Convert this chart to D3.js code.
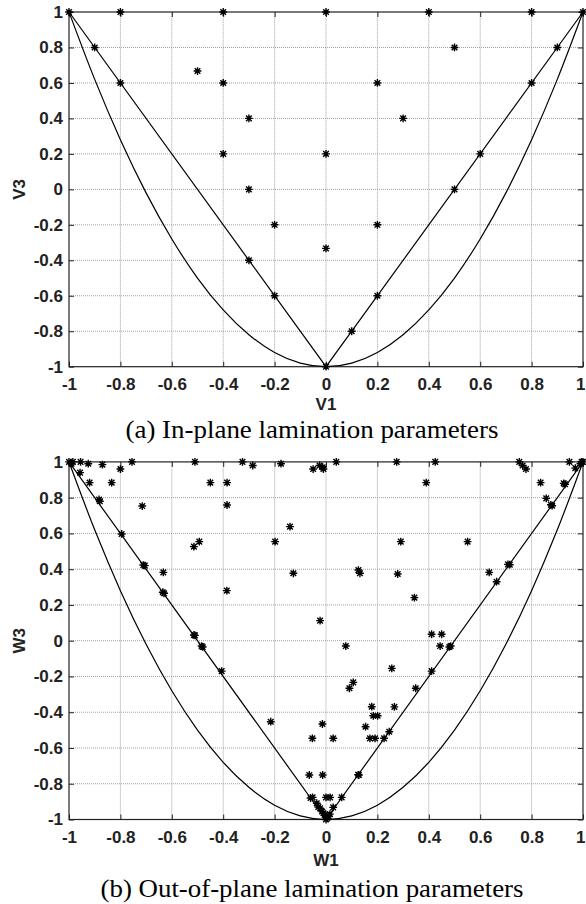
<!DOCTYPE html>
<html>
<head>
<meta charset="utf-8">
<script src="https://cdn.jsdelivr.net/npm/d3@7"></script>
<style>
body { margin: 0; background: #fff; }
svg { display: block; }
.tick text { font-family: "Liberation Sans", Arial, sans-serif; font-weight: bold; font-size: 17px; fill: #222; }
.axis-label { font-family: "Liberation Sans", Arial, sans-serif; font-weight: bold; font-size: 17px; fill: #222; }
.caption { font-family: "Liberation Serif", "Times New Roman", serif; font-size: 25px; fill: #000; }
</style>
</head>
<body>
<svg id="chart" width="586" height="904"></svg>
<script>
// tick values and labels (same for both panels)
var ticks = [-1, -0.8, -0.6, -0.4, -0.2, 0, 0.2, 0.4, 0.6, 0.8, 1];
var tickLabels = ['-1', '-0.8', '-0.6', '-0.4', '-0.2', '0', '0.2', '0.4', '0.6', '0.8', '1'];

// feasible region boundary
var lineX = [-1, 0, 1];
var lineY = [1, -1, 1];
var curveX = [-1, -0.9, -0.8, -0.7, -0.6, -0.5, -0.4, -0.3, -0.2, -0.1, 0, 0.1, 0.2, 0.3, 0.4, 0.5, 0.6, 0.7, 0.8, 0.9, 1];
var curveY = [1, 0.62, 0.28, -0.02, -0.28, -0.5, -0.68, -0.82, -0.92, -0.98, -1, -0.98, -0.92, -0.82, -0.68, -0.5, -0.28, -0.02, 0.28, 0.62, 1];

// (a) in-plane lamination parameters
var v1 = [-1, -0.8, -0.4, 0, 0.4, 0.8, 1,
	-0.9, 0.5, 0.9,
	-0.8, -0.5, -0.4, 0.2, 0.8,
	-0.3, 0.3,
	-0.4, 0, 0.6,
	-0.3, 0.5,
	-0.2, 0.2,
	0,
	-0.3,
	-0.2, 0.2,
	0.1,
	0];
var v3 = [1, 1, 1, 1, 1, 1, 1,
	0.8, 0.8, 0.8,
	0.6, 0.667, 0.6, 0.6, 0.6,
	0.4, 0.4,
	0.2, 0.2, 0.2,
	0, 0,
	-0.2, -0.2,
	-0.333,
	-0.4,
	-0.6, -0.6,
	-0.8,
	-1];

// (b) out-of-plane lamination parameters
var w1 = [-1, -0.99, -0.985, -0.955, -0.925, -0.87, -0.8, -0.755, -0.51, -0.325, -0.285, -0.175,
	-0.05, -0.025, -0.01, -0.013, 0.04, 0.275, 0.425, 0.752, 0.765, 0.778, 0.947, 0.97, 1, 0.995, 0.99,
	-0.957, -0.92, -0.834, -0.45, -0.385, 0.39, 0.835, 0.925, 0.93,
	-0.883, -0.88, -0.715, -0.385, 0.857, 0.875, 0.88,
	-0.795, -0.711, -0.705, -0.633, -0.635, -0.63, -0.514, -0.493, -0.386,
	-0.514, -0.51, -0.484, -0.48, -0.406,
	-0.198, -0.14, -0.127, 0.291, 0.551, 0.126, 0.132, 0.279, 0.344,
	0.635, 0.664, 0.708, 0.715,
	-0.023, 0.077, 0.256, 0.411, 0.45, 0.444, 0.485, 0.48, 0.411,
	0.106, 0.091, 0.349, 0.178, 0.266, 0.184, 0.201,
	-0.215, -0.014, 0.154, 0.246, -0.053, 0.028, 0.171, 0.191, 0.226,
	-0.065, -0.013, 0.128, 0.125,
	-0.052, -0.06, 0, 0.016, 0.061, 0.028,
	-0.036, -0.03, -0.023, -0.015, -0.01, -0.005, 0, 0.005, 0, 0.01, 0.015];
var w3 = [1, 0.99, 1, 1, 0.99, 0.985, 0.96, 1, 1, 1, 0.98, 0.99,
	0.96, 0.98, 0.96, 0.97, 1, 1, 1, 1, 0.98, 0.96, 1, 0.965, 1, 1, 0.99,
	0.94, 0.884, 0.884, 0.884, 0.884, 0.884, 0.884, 0.88, 0.875,
	0.79, 0.78, 0.753, 0.759, 0.796, 0.76, 0.755,
	0.597, 0.423, 0.42, 0.382, 0.271, 0.265, 0.526, 0.554, 0.28,
	0.032, 0.03, -0.03, -0.035, -0.17,
	0.554, 0.638, 0.377, 0.554, 0.554, 0.395, 0.377, 0.373, 0.241,
	0.382, 0.33, 0.427, 0.425,
	0.112, -0.03, -0.155, 0.036, 0.036, -0.03, -0.03, -0.035, -0.17,
	-0.233, -0.266, -0.266, -0.369, -0.37, -0.42, -0.42,
	-0.453, -0.466, -0.481, -0.509, -0.546, -0.546, -0.546, -0.546, -0.546,
	-0.751, -0.751, -0.751, -0.75,
	-0.876, -0.88, -0.876, -0.876, -0.876, -0.932,
	-0.909, -0.93, -0.937, -0.955, -0.965, -0.975, -0.984, -0.993, -1, -0.98, -0.97];

var svg = d3.select('#chart');

// asterisk marker like matlab '*'
function star(r){
	var d = r * 0.72;
	return 'M' + (-r) + ',0H' + r + 'M0,' + (-r) + 'V' + r +
		'M' + (-d) + ',' + (-d) + 'L' + d + ',' + d +
		'M' + (-d) + ',' + d + 'L' + d + ',' + (-d);
}

function drawPanel(xs, ys, px, py, xname, yname, labelOff, caption, capY, capW){
	var x = d3.scaleLinear().domain([-1, 1]).range(px);
	var y = d3.scaleLinear().domain([-1, 1]).range(py);
	var g = svg.append('g');
	var fmt = function(d, i){ return tickLabels[i]; };

	// grid
	var inner = ticks.slice(1, -1);
	g.append('g').selectAll('line').data(inner).enter().append('line')
		.attr('x1', function(d){ return x(d); }).attr('x2', function(d){ return x(d); })
		.attr('y1', py[0]).attr('y2', py[1])
		.attr('stroke', '#a0a0a0').attr('stroke-width', 1).attr('stroke-dasharray', '1,1');
	g.append('g').selectAll('line').data(inner).enter().append('line')
		.attr('y1', function(d){ return y(d); }).attr('y2', function(d){ return y(d); })
		.attr('x1', px[0]).attr('x2', px[1])
		.attr('stroke', '#a0a0a0').attr('stroke-width', 1).attr('stroke-dasharray', '1,1');

	// axes, ticks pointing in
	var xa = g.append('g').attr('transform', 'translate(0,' + py[0] + ')')
		.call(d3.axisBottom(x).tickValues(ticks).tickFormat(fmt).tickSize(-5).tickPadding(11));
	g.append('g').attr('transform', 'translate(' + px[0] + ',0)')
		.call(d3.axisLeft(y).tickValues(ticks).tickFormat(fmt).tickSize(-5).tickPadding(6));
	g.append('g').attr('transform', 'translate(0,' + py[1] + ')')
		.call(d3.axisTop(x).tickValues(ticks).tickFormat('').tickSize(-5));
	g.append('g').attr('transform', 'translate(' + px[1] + ',0)')
		.call(d3.axisRight(y).tickValues(ticks).tickFormat('').tickSize(-5));
	g.selectAll('.domain').remove();
	g.selectAll('.tick line').attr('stroke', '#222');
	// last label sits at the page edge
	xa.selectAll('.tick text').filter(function(d){ return d === 1; })
		.attr('text-anchor', 'end').attr('x', 2);
	g.append('rect')
		.attr('x', px[0]).attr('y', py[1])
		.attr('width', px[1] - px[0]).attr('height', py[0] - py[1])
		.attr('fill', 'none').attr('stroke', '#222').attr('stroke-width', 1.2);

	// boundary
	var line = d3.line().x(function(d){ return x(d[0]); }).y(function(d){ return y(d[1]); });
	g.append('path').datum(d3.zip(lineX, lineY)).attr('d', line)
		.attr('fill', 'none').attr('stroke', '#000').attr('stroke-width', 1.2);
	g.append('path').datum(d3.zip(curveX, curveY)).attr('d', line.curve(d3.curveMonotoneX))
		.attr('fill', 'none').attr('stroke', '#000').attr('stroke-width', 1.2);

	// points
	g.append('g').selectAll('path').data(d3.zip(xs, ys)).enter().append('path')
		.attr('transform', function(d){ return 'translate(' + x(d[0]) + ',' + y(d[1]) + ')'; })
		.attr('d', star(3.9))
		.attr('fill', 'none').attr('stroke', '#000').attr('stroke-width', 1.4);

	// labels
	g.append('text').attr('class', 'axis-label')
		.attr('x', x(0)).attr('y', py[0] + labelOff)
		.attr('text-anchor', 'middle').text(xname);
	g.append('text').attr('class', 'axis-label')
		.attr('transform', 'translate(25,' + y(0) + ') rotate(-90)')
		.attr('text-anchor', 'middle').text(yname);
	svg.append('text').attr('class', 'caption')
		.attr('x', 312).attr('y', capY)
		.attr('text-anchor', 'middle')
		.attr('textLength', capW).attr('lengthAdjust', 'spacingAndGlyphs')
		.text(caption);
}

drawPanel(v1, v3, [69, 583], [366.7, 12], 'V1', 'V3', 43, '(a) In-plane lamination parameters', 438, 373);
drawPanel(w1, w3, [69, 583], [819.5, 461.9], 'W1', 'W3', 46.5, '(b) Out-of-plane lamination parameters', 897, 423);
</script>
</body>
</html>
